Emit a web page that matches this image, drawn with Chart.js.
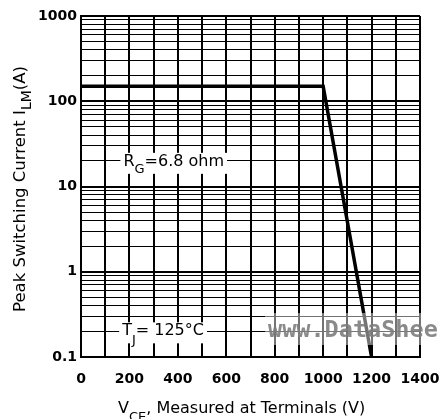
<!DOCTYPE html>
<html>
<head>
<meta charset="utf-8">
<script src="https://cdn.jsdelivr.net/npm/chart.js@4.4.1/dist/chart.umd.min.js"></script>
<style>
  html, body { margin: 0; padding: 0; background: #fff; }
  #wrap { width: 439px; height: 419px; }
</style>
</head>
<body>
<div id="wrap"><canvas id="MyChart"></canvas></div>
<script>
// Peak switching current vs. collector-emitter voltage (RBSOA curve)
const vceVolts = [0, 1000, 1200];
const peakCurrent = [150, 150, 0.1];

// Axis ranges and tick labels
const xMin = 0;
const xMax = 1400;
const xGridStep = 100;
const xTickLabels = [0, 200, 400, 600, 800, 1000, 1200, 1400];
const yDecades = [0.1, 1, 10, 100, 1000];
const yMinorSteps = [1, 2, 3, 4, 5, 6, 7, 8, 9];

// log paper: 1..9 in every decade, plus the top line
const yGridValues = [];
yDecades.slice(0, -1).forEach(d => {
    yMinorSteps.forEach(s => yGridValues.push(Number((d * s).toPrecision(3))));
});
yGridValues.push(yDecades[yDecades.length - 1]);

const FONT = "'DejaVu Sans', sans-serif";

// text runs drawn one after another, some of them as subscripts
function runWidth(ctx, runs) {
    let w = 0;
    runs.forEach(r => {
        ctx.font = r.size + 'px ' + FONT;
        w += ctx.measureText(r.text).width;
    });
    return w;
}

function drawRuns(ctx, runs, x0, y0) {
    let x = x0;
    runs.forEach(r => {
        ctx.font = r.size + 'px ' + FONT;
        ctx.fillText(r.text, x, y0 + (r.dy || 0));
        x += ctx.measureText(r.text).width;
    });
}

const textPlugin = {
    id: 'chartText',
    afterDraw(chart) {
        const ctx = chart.ctx;
        const xs = chart.scales.x;
        const ys = chart.scales.y;
        ctx.save();
        ctx.textBaseline = 'alphabetic';
        ctx.textAlign = 'left';
        ctx.fillStyle = '#000';

        // labels sitting on the grid with a white box behind them
        const boxed = [
            { runs: [{ text: 'R', size: 16 }, { text: 'G', size: 13, dy: 7 }, { text: '=6.8 ohm', size: 16 }],
              x: xs.getPixelForValue(175), y: ys.getPixelForValue(20) + 5 },
            { runs: [{ text: 'T', size: 16 }, { text: 'J', size: 13, dy: 9 }, { text: '= 125°C', size: 16 }],
              x: xs.getPixelForValue(170), y: ys.getPixelForValue(0.2) + 4 }
        ];
        boxed.forEach(b => {
            const w = runWidth(ctx, b.runs);
            ctx.fillStyle = '#fff';
            ctx.fillRect(b.x - 3, b.y - 13, w + 6, 21);
            ctx.fillStyle = '#000';
            drawRuns(ctx, b.runs, b.x, b.y);
        });

        // x axis title
        drawRuns(ctx, [
            { text: 'V', size: 16 },
            { text: 'CE', size: 13, dy: 8 },
            { text: ', Measured at Terminals (V)', size: 16 }
        ], 118, 413);

        // y axis title, rotated
        const yRuns = [
            { text: 'Peak Switching Current I', size: 16.5 },
            { text: 'LM', size: 14, dy: 6 },
            { text: '(A)', size: 16.5 }
        ];
        const yw = runWidth(ctx, yRuns);
        ctx.save();
        ctx.translate(25, 189);
        ctx.rotate(-Math.PI / 2);
        drawRuns(ctx, yRuns, -yw / 2, 0);
        ctx.restore();

        // site watermark across the lower right corner
        ctx.fillStyle = 'rgba(255,255,255,0.45)';
        ctx.fillRect(265, 313, 174, 32);
        ctx.font = "bold 23.5px 'DejaVu Sans Mono', monospace";
        ctx.fillStyle = 'rgba(125,125,125,0.9)';
        ctx.fillText('www.DataSheet4U.com', 268, 337);
        ctx.restore();
    }
};

const ctx = document.getElementById('MyChart').getContext('2d');
const rbsoaChart = new Chart(ctx, {
    type: 'line',
    data: {
        datasets: [{
            data: vceVolts.map((v, i) => ({ x: v, y: peakCurrent[i] })),
            borderColor: '#000',
            borderWidth: 3.5,
            pointRadius: 0,
            fill: false,
            tension: 0
        }]
    },
    options: {
        responsive: true,
        maintainAspectRatio: false,
        devicePixelRatio: 1,
        animation: false,
        layout: { padding: { top: 16, right: 19, left: 0, bottom: 0 } },
        plugins: {
            legend: { display: false },
            tooltip: { enabled: false }
        },
        scales: {
            x: {
                type: 'linear',
                min: xMin,
                max: xMax,
                afterFit: scale => {
                    scale.height = 62;
                    scale.paddingLeft = 0;
                    scale.paddingRight = 0;
                },
                grid: {
                    color: '#000',
                    lineWidth: 2,
                    drawTicks: false
                },
                border: { display: true, color: '#000', width: 2 },
                ticks: {
                    stepSize: xGridStep,
                    autoSkip: false,
                    maxRotation: 0,
                    padding: 14,
                    color: '#000',
                    font: { family: FONT, size: 14, weight: 'bold' },
                    callback: v => (xTickLabels.includes(v) ? String(v) : '')
                }
            },
            y: {
                type: 'logarithmic',
                min: yDecades[0],
                max: yDecades[yDecades.length - 1],
                afterFit: scale => {
                    scale.width = 81;
                    scale.paddingTop = 0;
                    scale.paddingBottom = 0;
                },
                afterBuildTicks: scale => {
                    scale.ticks = yGridValues.map(v => ({ value: v, major: yDecades.includes(v) }));
                },
                grid: {
                    color: '#000',
                    lineWidth: c => (c.tick && yDecades.includes(c.tick.value) ? 2 : 1),
                    drawTicks: false
                },
                border: { display: true, color: '#000', width: 2 },
                ticks: {
                    autoSkip: false,
                    padding: 4,
                    color: '#000',
                    font: { family: FONT, size: 14, weight: 'bold' },
                    callback: v => (yDecades.includes(v) ? String(v) : '')
                }
            }
        }
    },
    plugins: [textPlugin]
});
</script>
</body>
</html>
